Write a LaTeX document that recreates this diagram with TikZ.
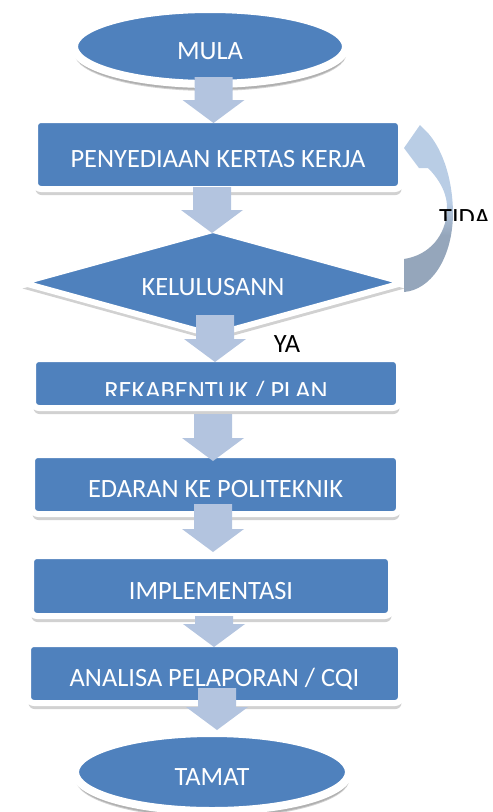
\documentclass[tikz,border=0pt]{standalone}
\usepackage{fontspec}
\setmainfont{Carlito}
\usetikzlibrary{positioning,shapes,shadows,calc}
\definecolor{nodeblue}{RGB}{79,129,189}
\definecolor{flowblue}{RGB}{179,196,223}
\definecolor{looplight}{RGB}{185,205,229}
\definecolor{loopdark}{RGB}{149,166,187}
\pgfdeclareverticalshading{loopshade}{100bp}{color(0bp)=(loopdark); color(42bp)=(loopdark);
 color(52bp)=(looplight); color(100bp)=(looplight)}
\tikzstyle{flowtext}=[font=\fontsize{26.4}{30}\selectfont, text height=26pt, text depth=0pt,
                     inner sep=0pt]
\tikzstyle{sbox}=[rectangle, rounded corners=6pt, fill=nodeblue, draw=white, line width=6pt,
                 outer sep=0pt, text=white, flowtext,
                 drop shadow={shadow xshift=0.5pt, shadow yshift=-6pt, opacity=0.3, fill=black!60}]
\tikzstyle{ebox}=[sbox, ellipse, rounded corners=0pt, line width=8pt,
                 drop shadow={shadow xshift=0.5pt, shadow yshift=-7pt, opacity=0.3, fill=black!60}]
\tikzstyle{dbox}=[sbox, diamond, aspect=3.6, rounded corners=0pt]
\tikzstyle{farrow}=[fill=flowblue, to path={let \p1=(\tikztostart), \p2=(\tikztotarget) in
  (\x1-19pt,\y1) -- (\x1+19pt,\y1) -- (\x1+19pt,\y2+23pt) -- (\x1+31pt,\y2+23pt)
  -- (\x1,\y2) -- (\x1-31pt,\y2+23pt) -- (\x1-19pt,\y2+23pt) -- cycle}]
\tikzstyle{ltext}=[font=\fontsize{26.4}{30}\selectfont, text=black, inner sep=0pt]

\begin{document}
\begin{tikzpicture}[x=1pt, y=-1pt]
\useasboundingbox (0,0) rectangle (493,812);

\node (MULA) [ebox, minimum width=272pt, minimum height=75pt] at (210,46.5) {MULA};
\node (PENYEDIAAN) [sbox, below=36pt of MULA, xshift=8pt,
 minimum width=366pt, minimum height=69pt] {PENYEDIAAN KERTAS KERJA};
\node (KELULUSAN) [dbox, below=41pt of PENYEDIAAN, xshift=-5pt,
 minimum width=382pt, minimum height=105pt] {KELULUSANN};
\node (REKABENTUK) [sbox, below=24pt of KELULUSAN, xshift=3pt,
 minimum width=366pt, minimum height=49pt] {};
\node (EDARAN) [sbox, below=47pt of REKABENTUK, xshift=-0.5pt,
 minimum width=367pt, minimum height=59pt] {EDARAN KE POLITEKNIK};
\node (IMPLEMENTASI) [sbox, below=42pt of EDARAN, xshift=-4.5pt,
 minimum width=360pt, minimum height=60pt] {IMPLEMENTASI};
\node (ANALISA) [sbox, below=28pt of IMPLEMENTASI, xshift=3.5pt,
 minimum width=373pt, minimum height=59pt] {ANALISA PELAPORAN / CQI};
\node (TAMAT) [ebox, below=30pt of ANALISA, xshift=-2.5pt,
 minimum width=274pt, minimum height=78pt] {TAMAT};

% the plan text is cut off at the bottom
\begin{scope}
 \clip ([yshift=60pt]REKABENTUK.south west) rectangle ([yshift=13pt]REKABENTUK.south east);
 \node (REKATEXT) [flowtext, text=white, yshift=-2.5pt] at (REKABENTUK.center) {REKABENTUK / PLAN};
\end{scope}

% block arrows
 \fill[farrow] ([xshift=3.5pt,yshift=7pt]MULA.south) to ([yshift=-3pt]PENYEDIAAN.north);
 \fill[farrow] ([xshift=-6pt,yshift=2pt]PENYEDIAAN.south) to ([yshift=-3pt]KELULUSAN.north);
 \fill[farrow] ([xshift=2pt,yshift=20pt]KELULUSAN.south) to ([yshift=-3pt]REKABENTUK.north);
 \fill[farrow] ([xshift=-3pt,yshift=-6pt]REKABENTUK.south) to ([yshift=-6pt]EDARAN.north);
 \fill[farrow] ([xshift=-2.5pt,yshift=10pt]EDARAN.south) to ([yshift=4pt]IMPLEMENTASI.north);
 \fill[farrow] ([xshift=3pt]IMPLEMENTASI.south) to ([yshift=-3pt]ANALISA.north);
 \fill[farrow] ([xshift=2.5pt,yshift=15pt]ANALISA.south) to ([yshift=3pt]TAMAT.north);

 \node (YA) [ltext, anchor=base] at (287,352) {YA};

% loop back when not approved
\coordinate (LOOPTIP) at (404,148);
\coordinate (LOOPEND) at (404,292);
 \shade[shading=loopshade] (420,125) -- (LOOPTIP) -- (419,168) -- (428,168)
  .. controls (440,180) and (448,195) .. (447,210)
  .. controls (446,235) and (430,255) .. (404,259)
  -- (LOOPEND)
  .. controls (430,290) and (452,260) .. (453,215)
  .. controls (453,175) and (440,145) .. (426,131) -- cycle;
\begin{scope}
 \clip (430,190) rectangle (493,220);
 \node (TIDA) [ltext, anchor=base west] at (439,226) {TIDA};
\end{scope}

\end{tikzpicture}
\end{document}
